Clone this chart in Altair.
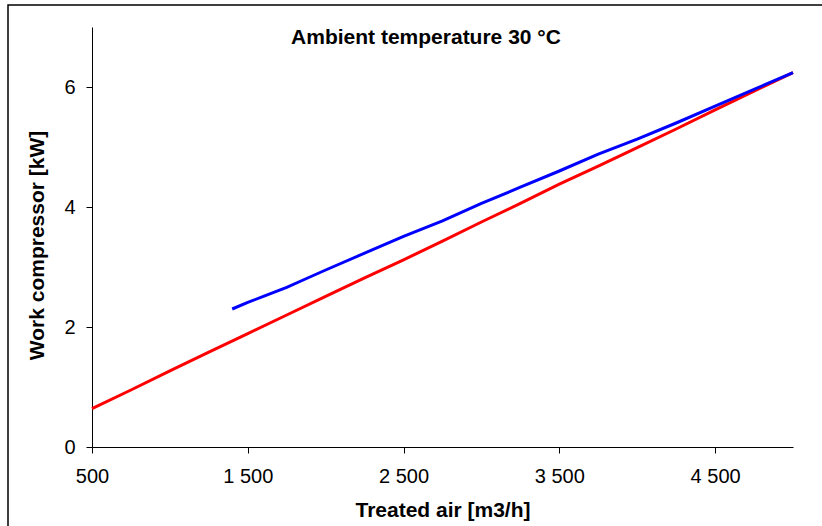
import altair as alt
import pandas as pd

# Treated air flow [m3/h] and compressor work [kW] for the two curves
red_air = [500, 750, 1000, 1250, 1500, 1750, 2000, 2250, 2500, 2750, 3000,
           3250, 3500, 3750, 4000, 4250, 4500, 4750, 5000]
red_work = [0.64, 0.95, 1.27, 1.58, 1.89, 2.20, 2.51, 2.82, 3.12, 3.43, 3.75,
            4.06, 4.38, 4.68, 4.99, 5.30, 5.62, 5.93, 6.24]

blue_air = [1400, 1500, 1600, 1750, 1870, 2000, 2250, 2500, 2750, 3000,
            3250, 3500, 3750, 4000, 4250, 4500, 4750, 5000]
blue_work = [2.30, 2.41, 2.51, 2.66, 2.80, 2.95, 3.23, 3.51, 3.77, 4.06,
             4.33, 4.60, 4.88, 5.13, 5.40, 5.68, 5.96, 6.24]

x_ticks = [500, 1500, 2500, 3500, 4500]
y_ticks = [0, 2, 4, 6]

title_text = "Ambient temperature 30 °C"
x_title = "Treated air [m3/h]"
y_title = "Work compressor [kW]"

df = pd.concat([
    pd.DataFrame({"air": red_air, "work": red_work, "curve": "red"}),
    pd.DataFrame({"air": blue_air, "work": blue_work, "curve": "blue"}),
])

FONT = "Liberation Sans"
W, H = 701, 420
PAD_L, PAD_T = 92, 27

lines = alt.Chart(df).mark_line(strokeWidth=3).encode(
    x=alt.X("air:Q",
            scale=alt.Scale(domain=[500, 5000], nice=False, zero=False),
            axis=alt.Axis(values=x_ticks, title=x_title, labelFlush=False,
                          labelExpr="replace(format(datum.value, ','), ',', ' ')",
                          labelPadding=13, titleY=63, titleBaseline="middle")),
    y=alt.Y("work:Q",
            scale=alt.Scale(domain=[0, 7], nice=False),
            axis=alt.Axis(values=y_ticks, title=y_title, labelPadding=11,
                          labelFlush=False,
                          titleX=-55, titleY=218, titleAlign="center",
                          titleBaseline="middle")),
    color=alt.Color("curve:N",
                    scale=alt.Scale(domain=["red", "blue"], range=["#FF0000", "#0000FF"]),
                    legend=None),
    detail="curve:N",
)

title = alt.Chart(alt.Data(values=[{}])).mark_text(
    text=title_text, font=FONT, fontSize=21, fontWeight="bold",
    align="center", baseline="middle", color="black"
).encode(x=alt.value(426 - PAD_L), y=alt.value(38 - PAD_T))

frame = alt.Chart(alt.Data(values=[{}])).mark_rect(
    fill=None, stroke="black", strokeWidth=1.5
).encode(
    x=alt.value(8 - PAD_L), y=alt.value(5 - PAD_T),
    x2=alt.value(822 - PAD_L + 10), y2=alt.value(526 - PAD_T + 10),
)

chart = alt.layer(frame, lines, title).properties(
    width=W, height=H,
    autosize=alt.AutoSizeParams(type="none"),
    padding={"left": PAD_L, "top": PAD_T, "right": 822 - PAD_L - W, "bottom": 526 - PAD_T - H},
    background="white",
).configure_view(stroke=None).configure_axis(
    grid=False, domainColor="black", domainWidth=1, tickColor="black",
    tickSize=6, labelFont=FONT, labelFontSize=20, labelColor="black",
    titleFont=FONT, titleFontSize=21, titleFontWeight="bold", titleColor="black",
)

chart.save("out.html", embed_options={"renderer": "svg", "actions": False})
